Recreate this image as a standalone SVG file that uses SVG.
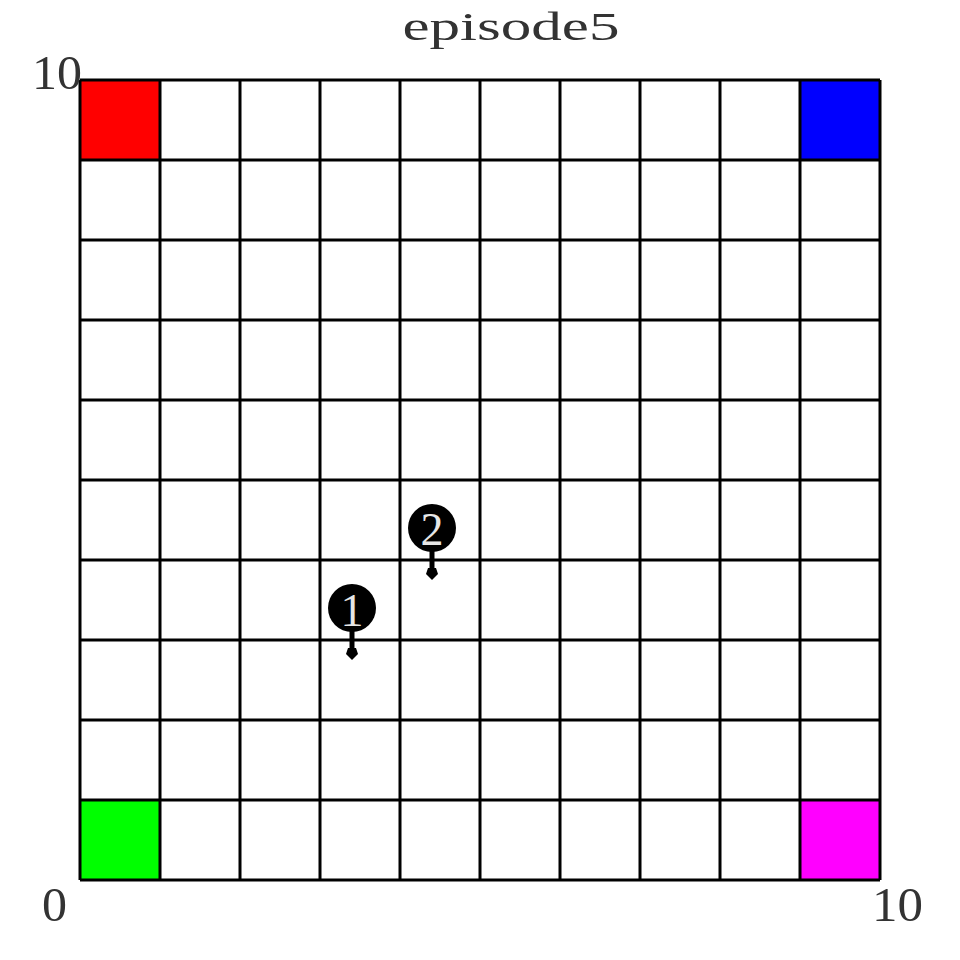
<svg xmlns="http://www.w3.org/2000/svg" width="960" height="960" viewBox="0 0 960 960">
<style>
.lbl{font-family:"Liberation Serif","DejaVu Serif",serif;fill:#333;}
.num{font-family:"Liberation Serif","DejaVu Serif",serif;fill:#e6e6e6;font-size:46px;text-anchor:middle;}
.grid line{stroke:#000;stroke-width:3;}
</style>
<defs>
<g id="agent">
<line x1="0" y1="0" x2="0" y2="44" stroke="#000" stroke-width="5"/>
<polygon points="-4,40 4,40 6,46 0,52 -6,46" fill="#000"/>
<circle cx="0" cy="0" r="24" fill="#000"/>
</g>
</defs>
<rect width="960" height="960" fill="#fff"/>
<text class="lbl" x="511" y="40" font-size="41" text-anchor="middle" textLength="217" lengthAdjust="spacingAndGlyphs">episode5</text>
<g id="cells">
<rect x="80" y="80" width="80" height="80" fill="#ff0000"/>
<rect x="800" y="80" width="80" height="80" fill="#0000ff"/>
<rect x="80" y="800" width="80" height="80" fill="#00ff00"/>
<rect x="800" y="800" width="80" height="80" fill="#ff00ff"/>
</g>
<g class="grid">
<line x1="80" y1="80" x2="880" y2="80"/>
<line x1="80" y1="160" x2="880" y2="160"/>
<line x1="80" y1="240" x2="880" y2="240"/>
<line x1="80" y1="320" x2="880" y2="320"/>
<line x1="80" y1="400" x2="880" y2="400"/>
<line x1="80" y1="480" x2="880" y2="480"/>
<line x1="80" y1="560" x2="880" y2="560"/>
<line x1="80" y1="640" x2="880" y2="640"/>
<line x1="80" y1="720" x2="880" y2="720"/>
<line x1="80" y1="800" x2="880" y2="800"/>
<line x1="80" y1="880" x2="880" y2="880"/>
<line x1="80" y1="80" x2="80" y2="880"/>
<line x1="160" y1="80" x2="160" y2="880"/>
<line x1="240" y1="80" x2="240" y2="880"/>
<line x1="320" y1="80" x2="320" y2="880"/>
<line x1="400" y1="80" x2="400" y2="880"/>
<line x1="480" y1="80" x2="480" y2="880"/>
<line x1="560" y1="80" x2="560" y2="880"/>
<line x1="640" y1="80" x2="640" y2="880"/>
<line x1="720" y1="80" x2="720" y2="880"/>
<line x1="800" y1="80" x2="800" y2="880"/>
<line x1="880" y1="80" x2="880" y2="880"/>
</g>
<text class="lbl" x="32" y="89" font-size="48" textLength="50" lengthAdjust="spacingAndGlyphs">10</text>
<text class="lbl" x="42" y="921" font-size="48" textLength="25" lengthAdjust="spacingAndGlyphs">0</text>
<text class="lbl" x="872" y="921" font-size="48" textLength="51" lengthAdjust="spacingAndGlyphs">10</text>
<g id="agent1">
<use href="#agent" x="352" y="608"/>
<text class="num" x="352" y="626">1</text>
</g>
<g id="agent2">
<use href="#agent" x="432" y="528"/>
<text class="num" x="432" y="545">2</text>
</g>
</svg>
